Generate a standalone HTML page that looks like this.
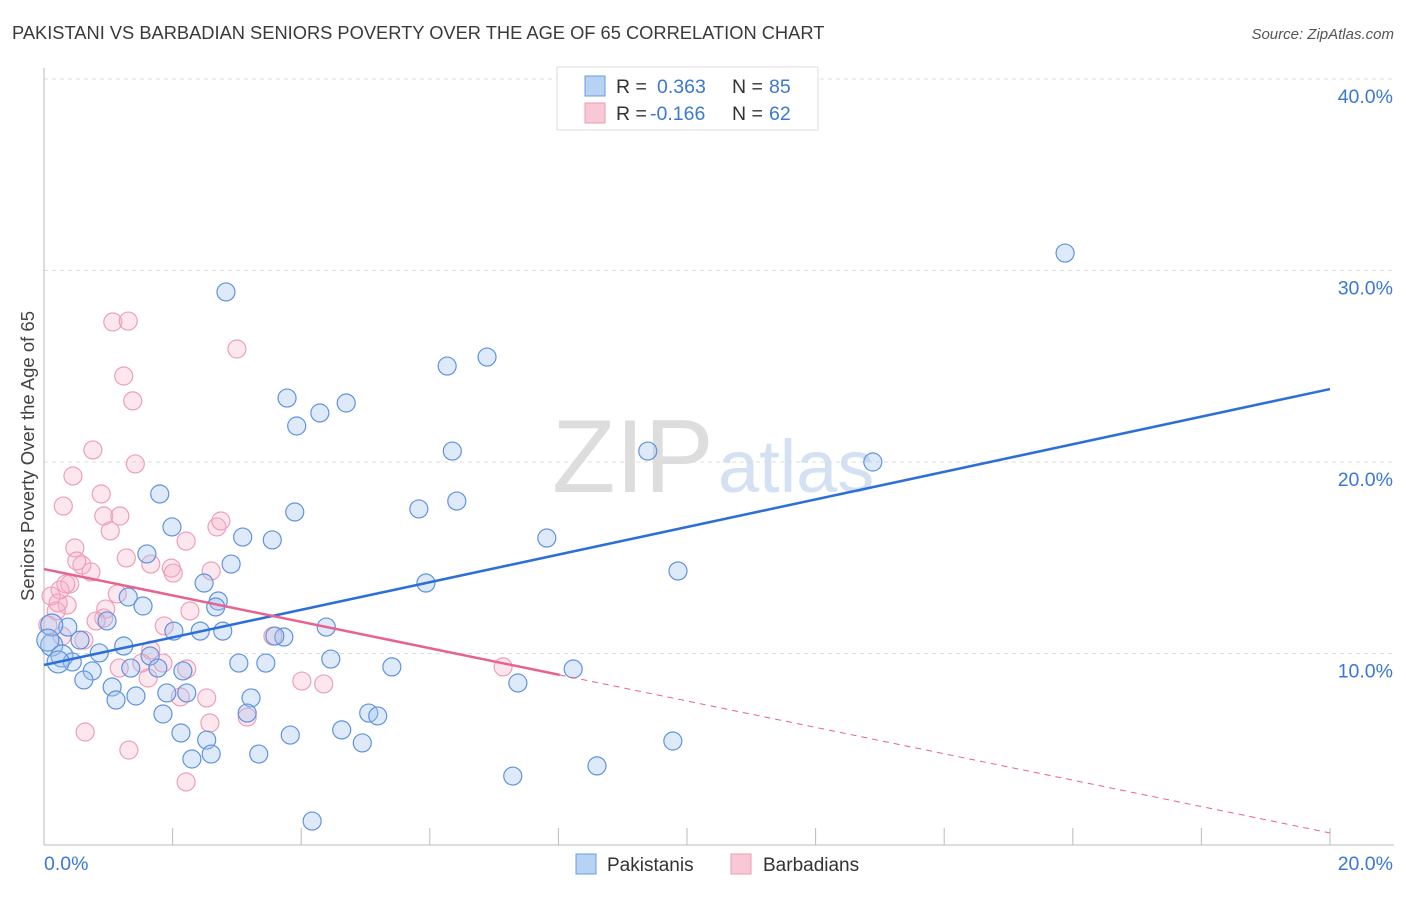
<!DOCTYPE html>
<html><head><meta charset="utf-8"><style>
body{margin:0;background:#fff;font-family:"Liberation Sans",sans-serif}
svg text{font-family:"Liberation Sans",sans-serif}
</style></head><body>
<svg id="chart" width="1406" height="892" xmlns="http://www.w3.org/2000/svg">
<text x="12" y="39" font-size="18.3" fill="#3a3a3a">PAKISTANI VS BARBADIAN SENIORS POVERTY OVER THE AGE OF 65 CORRELATION CHART</text>
<text x="1394" y="39" font-size="15" fill="#555" font-style="italic" text-anchor="end">Source: ZipAtlas.com</text>
<g>
<text x="552" y="492" font-size="104" fill="#ddd" font-family="Liberation Serif, serif">ZIP</text>
<text x="718" y="492" font-size="74" fill="#d3e1f3">atlas</text>
</g>
<g id="grid"></g>
<g id="axes"></g>
<g id="pts"></g>
<g id="lines"></g>
<text transform="translate(34,456) rotate(-90)" font-size="18.5" fill="#444" text-anchor="middle">Seniors Poverty Over the Age of 65</text>
<g>
<rect x="557" y="67" width="261" height="63" fill="#fff" stroke="#ddd"/>
<rect x="585" y="76" width="20" height="20" fill="#b8d2f4" stroke="#6b9be0"/>
<rect x="585" y="103" width="20" height="20" fill="#f8c8d6" stroke="#eb9ab4"/>
<text x="616" y="93" font-size="19.5" fill="#333">R =</text>
<text x="657" y="93" font-size="19.5" fill="#3a78d4">0.363</text>
<text x="732" y="93" font-size="19.5" fill="#333">N =</text>
<text x="769" y="93" font-size="19.5" fill="#3a78d4">85</text>
<text x="616" y="120" font-size="19.5" fill="#333">R =</text>
<text x="650" y="120" font-size="19.5" fill="#3a78d4">-0.166</text>
<text x="732" y="120" font-size="19.5" fill="#333">N =</text>
<text x="769" y="120" font-size="19.5" fill="#3a78d4">62</text>
</g>
<g>
<rect x="576" y="854" width="20" height="20" fill="#b8d2f4" stroke="#6b9be0"/>
<text x="607" y="871" font-size="19" fill="#333">Pakistanis</text>
<rect x="731" y="854" width="20" height="20" fill="#f8c8d6" stroke="#eb9ab4"/>
<text x="763" y="871" font-size="19" fill="#333">Barbadians</text>
</g>
</svg>
<script>
const yTicks=[10,20,30,40];
const yTickLabels=["10.0%","20.0%","30.0%","40.0%"];
const xTickLabels=["0.0%","20.0%"];
const blueX=[2.83,15.88,6.89,6.27,3.78,4.70,4.29,3.93,6.35,9.39,12.89,1.80,6.42,5.83,3.90,1.99,3.09,7.82,3.55,1.60,2.91,9.86,2.49,5.94,1.31,2.71,1.54,2.67,0.98,4.39,2.02,2.43,2.78,3.73,3.59,0.37,0.56,0.12,1.24,0.86,1.65,0.28,0.44,4.46,3.03,3.45,5.41,8.23,2.16,1.35,1.77,0.75,0.62,1.06,1.91,2.22,7.37,3.22,1.12,1.43,5.05,5.19,1.85,3.16,4.63,2.13,3.83,2.53,4.95,2.60,3.34,2.30,9.78,8.60,7.29,4.17,0.22,0.12,0.06];
const blueY=[28.88,30.91,25.48,25.01,23.34,23.08,22.56,21.88,20.57,20.57,20.0,18.33,17.96,17.55,17.39,16.61,16.08,16.03,15.93,15.20,14.67,14.31,13.68,13.68,12.95,12.74,12.48,12.43,11.70,11.38,11.17,11.17,11.17,10.86,10.91,11.38,10.70,10.44,10.39,10.03,9.87,9.87,9.56,9.71,9.50,9.50,9.30,9.19,9.09,9.24,9.24,9.09,8.62,8.25,7.94,7.94,8.46,7.68,7.57,7.78,6.89,6.74,6.84,6.89,6.01,5.85,5.74,5.48,5.33,4.75,4.75,4.49,5.43,4.13,3.60,1.25,9.56,11.49,10.70];
const pinkX=[1.07,1.31,3.00,1.24,1.38,1.42,0.76,0.45,0.89,0.30,0.93,1.18,1.03,2.69,2.75,2.21,1.28,0.48,0.59,0.51,1.66,1.98,2.01,0.73,2.60,0.40,1.14,0.25,0.11,0.36,0.96,2.27,0.93,0.81,1.87,0.19,3.56,1.66,0.06,0.28,0.62,1.52,1.17,2.22,1.62,4.01,4.35,7.14,2.53,2.12,2.58,3.16,0.64,1.32,2.21,1.85,0.22,0.34];
const pinkY=[27.31,27.36,25.90,24.49,23.19,19.90,20.63,19.27,18.33,17.70,17.18,17.18,16.40,16.61,16.92,15.87,14.99,15.51,14.62,14.83,14.67,14.46,14.20,14.26,14.31,13.63,13.11,13.32,13.00,12.53,12.32,12.22,11.85,11.70,11.44,12.22,10.91,10.18,11.49,10.91,10.70,9.50,9.24,9.19,8.72,8.56,8.41,9.30,7.68,7.73,6.37,6.68,5.90,4.96,3.29,9.50,12.64,13.63];
const blueTrend=[9.40,23.81];
const pinkTrend=[14.41,0.63];
const pinkSolidEnd=8.02;
const sx=v=>44+v*64.3, sy=v=>845-v*19.15;
const NS="http://www.w3.org/2000/svg";
function mk(p,t,a){const e=document.createElementNS(NS,t);for(const k in a)e.setAttribute(k,a[k]);p.appendChild(e);return e;}
const grid=document.getElementById('grid'),axes=document.getElementById('axes');
yTicks.forEach((t,i)=>{
 const l=mk(grid,'line',{x1:44,x2:1394,y1:sy(t),y2:sy(t),stroke:'#ddd','stroke-dasharray':'4,4'});
 
 
 const tx=mk(axes,'text',{x:1393,y:sy(t)+24,'font-size':19.5,fill:'#3a78d4','text-anchor':'end'});
 tx.textContent=yTickLabels[i];
 
 
});
mk(axes,'line',{x1:44,x2:44,y1:68,y2:845,stroke:'#bbb'});
mk(axes,'line',{x1:44,x2:1394,y1:845,y2:845,stroke:'#bbb'});
for(let i=1;i<=10;i++){const x=sx(i*2);const l=mk(axes,'line',{x1:x,x2:x,y1:828,y2:845,stroke:'#bbb'});
 
 }
const xl0=mk(axes,'text',{x:44,y:870,'font-size':19.5,fill:'#3a78d4'});xl0.textContent=xTickLabels[0];


const xl1=mk(axes,'text',{x:1393,y:870,'font-size':19.5,fill:'#3a78d4','text-anchor':'end'});xl1.textContent=xTickLabels[1];


const pts=document.getElementById('pts');
pinkX.forEach((x,i)=>{const c=mk(pts,'circle',{cx:sx(x),cy:sy(pinkY[i]),r:9,fill:'rgba(246,176,198,0.3)',stroke:'#ee9fb8','stroke-width':1.2});
 
 });
blueX.forEach((x,i)=>{const c=mk(pts,'circle',{cx:sx(x),cy:sy(blueY[i]),r:(x<0.3?11:9),fill:'rgba(160,196,240,0.35)',stroke:'#5f93dd','stroke-width':1.2});
 
 });
const lines=document.getElementById('lines');
const bl=mk(lines,'line',{x1:sx(0),y1:sy(blueTrend[0]),x2:sx(20),y2:sy(blueTrend[1]),stroke:'#2d6fd6','stroke-width':2.5});


const pAt=x=>pinkTrend[0]+(pinkTrend[1]-pinkTrend[0])*x/20;
const pl=mk(lines,'line',{x1:sx(0),y1:sy(pinkTrend[0]),x2:sx(pinkSolidEnd),y2:sy(pAt(pinkSolidEnd)),stroke:'#e8628e','stroke-width':2.5});


const pd=mk(lines,'line',{x1:sx(pinkSolidEnd),y1:sy(pAt(pinkSolidEnd)),x2:sx(20),y2:sy(pinkTrend[1]),stroke:'#e8628e','stroke-width':1,'stroke-dasharray':'6,5'});


</script>
</body></html>
